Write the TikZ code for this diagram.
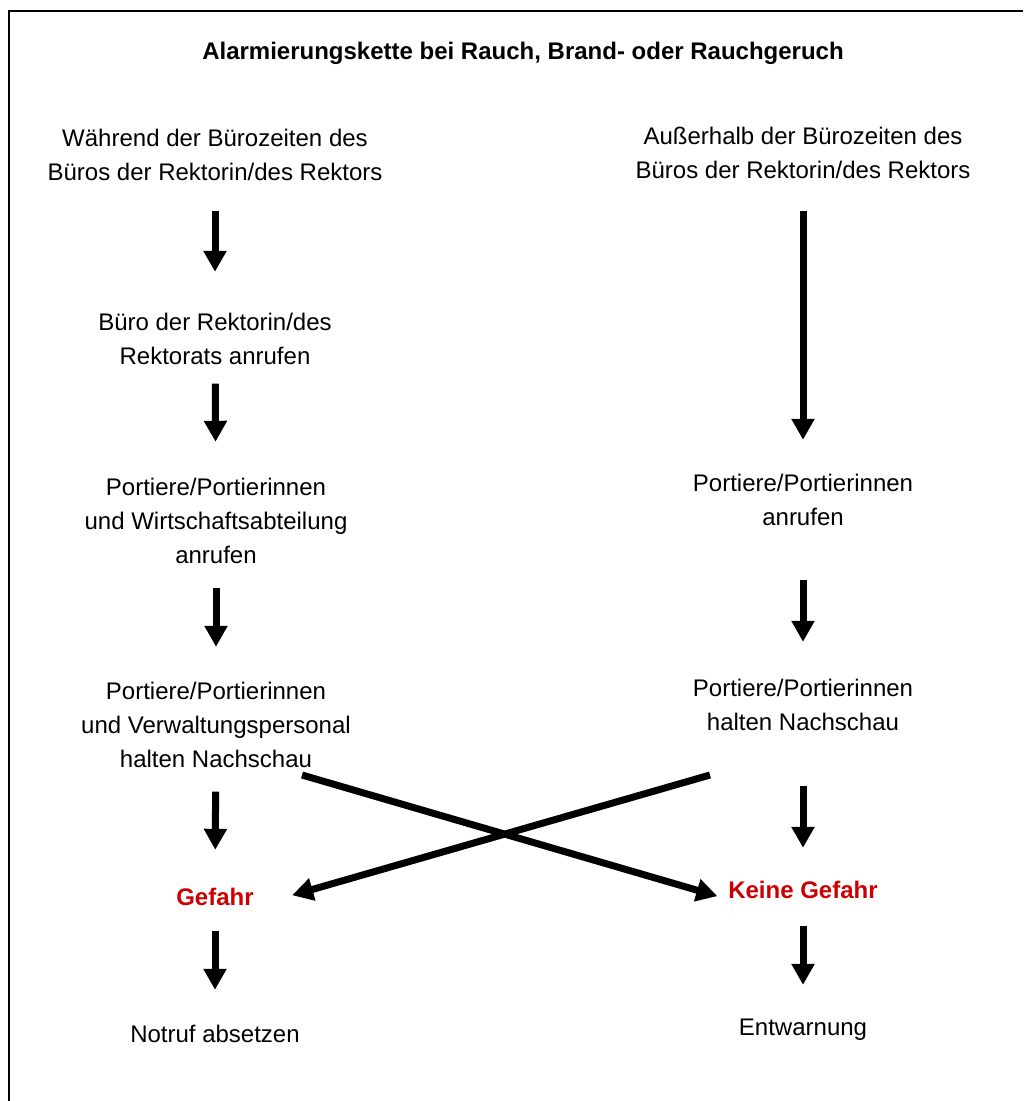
\documentclass[tikz,border=0pt]{standalone}
\usepackage{fontspec}
\setmainfont{Liberation Sans}
\usetikzlibrary{positioning,arrows.meta}
\definecolor{alarmred}{RGB}{204,0,0}

\begin{document}
\begin{tikzpicture}[x=0.5pt,y=-0.5pt]

\tikzstyle{every node}=[inner sep=0pt, align=center, font=\fontsize{12}{17}\selectfont]
\tikzstyle{warn} = [text=alarmred, font=\fontsize{12}{17}\selectfont\bfseries]
\tikzstyle{bigarrow} = [line width=3.5pt, -{Triangle[width=11pt,length=10.5pt]}]
\tikzstyle{blank} = [coordinate]

\useasboundingbox (0,0) rectangle (1023,1101);
\draw[line width=1.4pt] (9,1101) -- (9,11) -- (1023,11);

\node[font=\fontsize{12}{17}\selectfont\bfseries] at (523,53) (title) {Alarmierungskette bei Rauch, Brand- oder Rauchgeruch};

% left column
\node at (215,155) (left1) {Während der Bürozeiten des\\Büros der Rektorin/des Rektors};
\node at (215,339) (left2) {Büro der Rektorin/des\\Rektorats anrufen};
\node at (216,521) (left3) {Portiere/Portierinnen\\und Wirtschaftsabteilung\\anrufen};
\node at (216,725) (left4) {Portiere/Portierinnen\\und Verwaltungspersonal\\halten Nachschau};
\node[warn] at (215,897) (left5) {Gefahr};
\node at (215,1034) (left6) {Notruf absetzen};

% right column
\node at (803,153) (right1) {Außerhalb der Bürozeiten des\\Büros der Rektorin/des Rektors};
\node at (803,500) (right2) {Portiere/Portierinnen\\anrufen};
\node at (803,705) (right3) {Portiere/Portierinnen\\halten Nachschau};
\node[warn] at (803,890) (right4) {Keine Gefahr};
\node at (803,1030) (right5) {Entwarnung};

\foreach \a/\b/\s/\e in {left1/left2/14.75pt/20.5pt, left2/left3/9.25pt/18pt,
    left3/left4/11.75pt/17.5pt, left4/left5/11.75pt/19pt, left5/left6/12.25pt/17.5pt,
    right1/right2/15.75pt/17pt, right2/right3/26.75pt/18.5pt,
    right3/right4/27.25pt/16.5pt, right4/right5/13.25pt/17pt} {
    \draw[bigarrow, shorten <=\s, shorten >=\e] (\a) -- (\b);
}

% crossing arrows
\node[blank] at (302,775) (crossleft){};
\node[blank] at (710,775) (crossright){};
\draw[bigarrow, shorten >=5.5pt] (crossleft) -- (right4.south west);
\draw[bigarrow, shorten >=19.8pt] (crossright) -- (left5.south east);

\end{tikzpicture}
\end{document}
